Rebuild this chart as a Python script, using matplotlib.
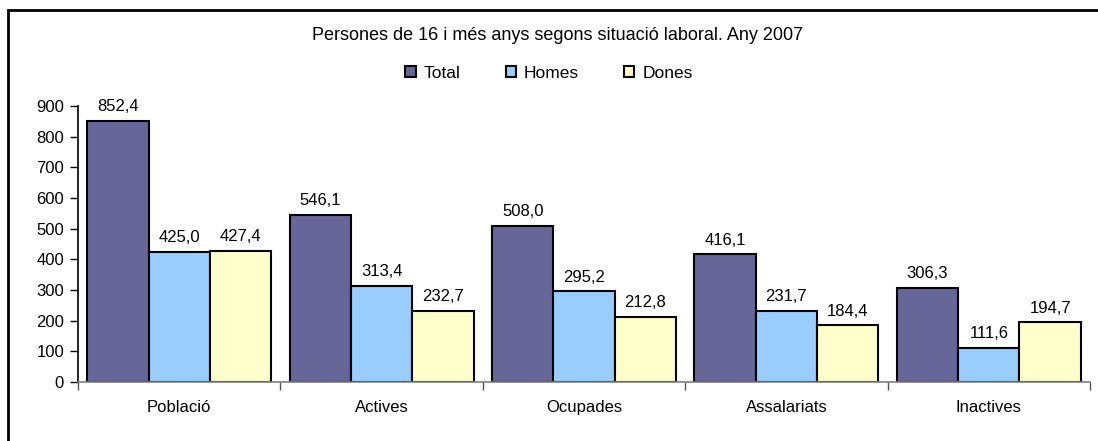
import numpy as np
import matplotlib
matplotlib.use('Agg')
import matplotlib.pyplot as plt
from matplotlib.patches import Rectangle

categories = ['Població', 'Actives', 'Ocupades', 'Assalariats', 'Inactives']
total = [852.4, 546.1, 508.0, 416.1, 306.3]
homes = [425.0, 313.4, 295.2, 231.7, 111.6]
dones = [427.4, 232.7, 212.8, 184.4, 194.7]
series_names = ['Total', 'Homes', 'Dones']
colors = ['#666699', '#99CCFF', '#FFFFCC']

plt.rcParams['font.family'] = ['Liberation Sans', 'DejaVu Sans']

fig = plt.figure(figsize=(10.98, 4.41), dpi=100)
ax = fig.add_axes([78 / 1098, 1 - 382 / 441, 1012 / 1098, 276 / 441])

# outer chart frame (left and top visible)
fig.patches.append(Rectangle((8 / 1098, -0.1), 1.2, 1.1 - 10 / 441,
                             transform=fig.transFigure, fill=False,
                             lw=2, ec='black'))

ind = np.arange(len(categories))
width = 0.303
for i, (vals, name, c) in enumerate(zip([total, homes, dones], series_names, colors)):
    pos = ind + (i - 1) * width
    ax.bar(pos, vals, width, color=c, edgecolor='black', lw=1.5, label=name)
    for x, v in zip(pos, vals):
        ax.text(x, v + 22, f'{v:.1f}'.replace('.', ','), ha='center',
                va='bottom', fontsize=12)

ax.set_xlim(-0.5, len(categories) - 0.5)
ax.set_ylim(0, 900)
ax.set_yticks(np.arange(0, 901, 100))
ax.tick_params(axis='y', direction='out', length=6, width=1, labelsize=12,
               pad=4)
ax.set_xticks(ind)
ax.set_xticklabels(categories, fontsize=12)
ax.tick_params(axis='x', length=0, pad=13)
ax.set_xticks(np.arange(-0.5, len(categories)), minor=True)
ax.tick_params(axis='x', which='minor', length=6, color='#555555', width=1)
for s in ['top', 'right']:
    ax.spines[s].set_visible(False)
ax.spines['left'].set_linewidth(1.2)
ax.spines['bottom'].set_color('#808080')
ax.spines['bottom'].set_linewidth(1.2)

fig.text(558 / 1098, 1 - 35 / 441,
         'Persones de 16 i més anys segons situació laboral. Any 2007',
         ha='center', va='center', fontsize=13)
fig.legend(loc='center', bbox_to_anchor=(549 / 1098, 1 - 73 / 441), ncol=3,
           frameon=False, fontsize=12.5, handlelength=0.6, handleheight=0.6,
           columnspacing=2.6, handletextpad=0.45)

fig.savefig('out.png', dpi=100)
